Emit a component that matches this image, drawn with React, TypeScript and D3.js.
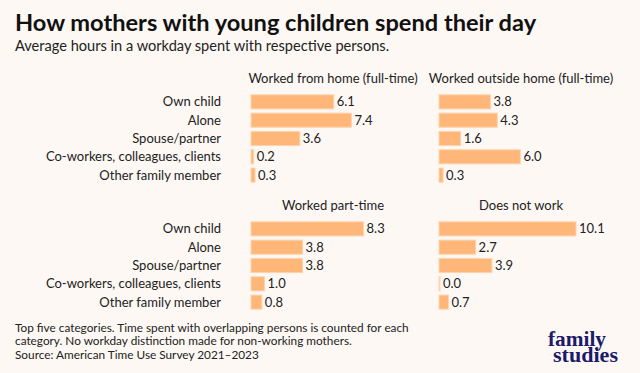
import React from 'react';
import * as d3 from 'd3';

const categories = [
  'Own child',
  'Alone',
  'Spouse/partner',
  'Co-workers, colleagues, clients',
  'Other family member',
];

const panelTitles = [
  'Worked from home (full-time)',
  'Worked outside home (full-time)',
  'Worked part-time',
  'Does not work',
];

const fromHome = [6.1, 7.4, 3.6, 0.2, 0.3];
const outsideHome = [3.8, 4.3, 1.6, 6.0, 0.3];
const partTime = [8.3, 3.8, 3.8, 1.0, 0.8];
const notWorking = [10.1, 2.7, 3.9, 0.0, 0.7];

const panelValues = [fromHome, outsideHome, partTime, notWorking];

const footnotes = [
  'Top five categories. Time spent with overlapping persons is counted for each',
  'category. No workday distinction made for non-working mothers.',
  'Source: American Time Use Survey 2021\u20132023',
];

const W = 640;
const H = 373;
const font = 'Lato, "Noto Sans", sans-serif';

export default function App() {
  const x = d3.scaleLinear().domain([0, 10.1]).range([0, 137]);
  const colX = [251, 439];
  const rowTop = [93, 220];
  const headerY = [83, 210];

  const panels = panelValues.map((vals, i) => {
    const col = i % 2;
    const row = Math.floor(i / 2);
    const y = d3
      .scaleBand<string>()
      .domain(categories)
      .range([rowTop[row], rowTop[row] + 91])
      .paddingInner(0.23)
      .paddingOuter(0.1);
    return { vals, col, row, y, x0: colX[col], title: panelTitles[i] };
  });

  return (
    <svg
      width={W}
      height={H}
      style={{ position: 'absolute', left: 0, top: 0, background: '#fdf8f4' }}
    >
      <rect width={W} height={H} fill="#fdf8f4" />
      <text x={15} y={31} fontFamily={font} fontWeight={700} fontSize={23.6} fill="#111">
        How mothers with young children spend their day
      </text>
      <text x={15} y={51} fontFamily={font} fontSize={14.6} fill="#222">
        Average hours in a workday spent with respective persons.
      </text>

      {panels.map((p, i) => (
        <g key={i}>
          <text
            x={p.x0 + 82}
            y={headerY[p.row]}
            textAnchor="middle"
            fontFamily={font}
            fontSize={13}
            fill="#222"
          >
            {p.title}
          </text>
          {p.col === 0 &&
            categories.map((c) => (
              <text
                key={c}
                x={221}
                y={(p.y(c) ?? 0) + p.y.bandwidth() / 2}
                dy="0.35em"
                textAnchor="end"
                fontFamily={font}
                fontSize={13}
                fill="#222"
              >
                {c}
              </text>
            ))}
          {categories.map((c, j) => {
            const w = Math.max(1, x(p.vals[j]));
            const by = p.y(c) ?? 0;
            return (
              <g key={c}>
                <rect
                  x={p.x0}
                  y={by}
                  width={w}
                  height={p.y.bandwidth()}
                  fill="#ffb679"
                  stroke="#ffd3ad"
                  strokeWidth={1}
                />
                <text
                  x={p.x0 + w + 3}
                  y={by + p.y.bandwidth() / 2}
                  dy="0.35em"
                  fontFamily={font}
                  fontSize={13}
                  fill="#222"
                >
                  {p.vals[j].toFixed(1)}
                </text>
              </g>
            );
          })}
        </g>
      ))}

      {footnotes.map((t, i) => (
        <text key={i} x={15} y={332 + i * 13.4} fontFamily={font} fontSize={11.8} fill="#222">
          {t}
        </text>
      ))}

      <text
        x={548}
        y={346}
        fontFamily='"Liberation Serif", serif'
        fontWeight={700}
        fontSize={20}
        fill="#1b1a6b"
        textLength={58}
        lengthAdjust="spacingAndGlyphs"
      >
        family
      </text>
      <text
        x={553}
        y={362}
        fontFamily='"Liberation Serif", serif'
        fontWeight={700}
        fontSize={20}
        fill="#1b1a6b"
        textLength={65}
        lengthAdjust="spacingAndGlyphs"
      >
        studies
      </text>
    </svg>
  );
}
